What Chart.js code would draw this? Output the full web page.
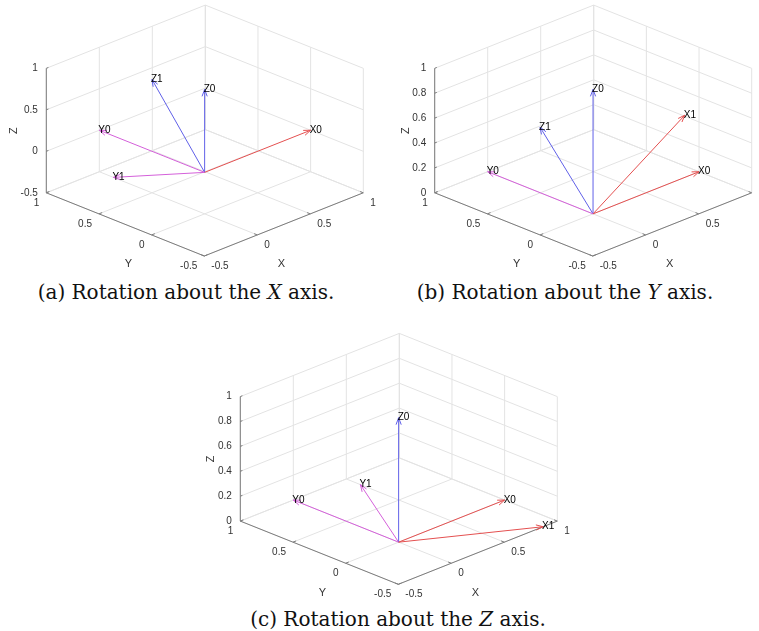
<!DOCTYPE html>
<html>
<head>
<meta charset="utf-8">
<script src="https://cdn.jsdelivr.net/npm/chart.js@4.4.0/dist/chart.umd.min.js"></script>
<style>
  html, body { margin: 0; padding: 0; background: #fff; }
  #page { position: relative; width: 759px; height: 631px; overflow: hidden; }
  canvas { position: absolute; }
  .cap { position: absolute; text-align: center; font-family: "DejaVu Serif", "Liberation Serif", serif; font-size: 20px; line-height: 24px; color: #111; white-space: nowrap; }
</style>
</head>
<body>
<div id="page">
  <canvas id="plotA" width="380" height="280" style="left:0px;top:0px"></canvas>
  <canvas id="plotB" width="379" height="280" style="left:380px;top:0px"></canvas>
  <canvas id="plotC" width="390" height="290" style="left:190px;top:310px"></canvas>
  <div class="cap" style="left:0px;top:280px;width:372px">(a) Rotation about the <i>X</i> axis.</div>
  <div class="cap" style="left:380px;top:280px;width:370px">(b) Rotation about the <i>Y</i> axis.</div>
  <div class="cap" style="left:190px;top:607px;width:416px">(c) Rotation about the <i>Z</i> axis.</div>
</div>
<script>
// tick values and labels
const xTicks = [-0.5, 0, 0.5, 1];
const yTicks = [-0.5, 0, 0.5, 1];
const xyTickLabels = ["-0.5", "0", "0.5", "1"];
const zTicksA = [-0.5, 0, 0.5, 1];
const zTickLabelsA = ["-0.5", "0", "0.5", "1"];
const zTicksBC = [0, 0.2, 0.4, 0.6, 0.8, 1];
const zTickLabelsBC = ["0", "0.2", "0.4", "0.6", "0.8", "1"];

// vectors (tips, all from the origin) for each panel
const namesA = ["X0", "Y0", "Z0", "Y1", "Z1"];
const tipsA = [[1, 0, 0], [0, 1, 0], [0, 0, 1], [0, 0.866, -0.5], [0, 0.5, 0.866]];
const kindsA = ["x", "y", "z", "y", "z"];

const namesB = ["X0", "Y0", "Z0", "X1", "Z1"];
const tipsB = [[1, 0, 0], [0, 1, 0], [0, 0, 1], [0.866, 0, 0.5], [-0.5, 0, 0.866]];
const kindsB = ["x", "y", "z", "x", "z"];

const namesC = ["X0", "Y0", "Z0", "X1", "Y1"];
const tipsC = [[1, 0, 0], [0, 1, 0], [0, 0, 1], [0.866, -0.5, 0], [0.5, 0.866, 0]];
const kindsC = ["x", "y", "z", "x", "y"];

const vecColors = { x: "rgb(228,80,80)", y: "rgb(212,96,218)", z: "rgb(96,96,232)" };
const gridColor = "#e3e3e3";
const axisColor = "#7c7c7c";
const tickFont = '10px "Liberation Sans", Arial, sans-serif';

function makePanel(canvasId, cfg) {
    const canvas = document.getElementById(canvasId);
    const W = canvas.width, H = canvas.height;
    const xr = [-0.5, 1], yr = [-0.5, 1], zr = [cfg.zTicks[0], cfg.zTicks[cfg.zTicks.length - 1]];

    // view projection of the unit plot box (front lower corner = xmin, ymin, zmin)
    const proj = (x, y, z) => {
        const nx = (x - xr[0]) / (xr[1] - xr[0]);
        const ny = (y - yr[0]) / (yr[1] - yr[0]);
        const nz = (z - zr[0]) / (zr[1] - zr[0]);
        return {
            x: cfg.front[0] + nx * 159 - ny * 158,
            y: cfg.front[1] - nx * 63.2 - ny * 63.2 - nz * 124.5,
        };
    };

    const segs = (list) => {
        const out = [];
        list.forEach(s => { out.push(proj(...s[0]), proj(...s[1]), { x: null, y: null }); });
        return out;
    };

    // grid on the three back planes
    const grid = [];
    xTicks.forEach(t => {
        grid.push([[t, yr[0], zr[0]], [t, yr[1], zr[0]]]);
        grid.push([[t, yr[1], zr[0]], [t, yr[1], zr[1]]]);
    });
    yTicks.forEach(t => {
        grid.push([[xr[0], t, zr[0]], [xr[1], t, zr[0]]]);
        grid.push([[xr[1], t, zr[0]], [xr[1], t, zr[1]]]);
    });
    cfg.zTicks.forEach(t => {
        grid.push([[xr[1], yr[0], t], [xr[1], yr[1], t]]);
        grid.push([[xr[0], yr[1], t], [xr[1], yr[1], t]]);
    });

    const axes = [
        [[xr[0], yr[0], zr[0]], [xr[1], yr[0], zr[0]]],
        [[xr[0], yr[0], zr[0]], [xr[0], yr[1], zr[0]]],
        [[xr[0], yr[1], zr[0]], [xr[0], yr[1], zr[1]]],
    ];
    const tickLen = 0.02;
    xTicks.forEach(t => axes.push([[t, yr[0], zr[0]], [t, yr[0] + tickLen * 1.5, zr[0]]]));
    yTicks.forEach(t => axes.push([[xr[0], t, zr[0]], [xr[0] + tickLen * 1.5, t, zr[0]]]));
    cfg.zTicks.forEach(t => axes.push([[xr[0], yr[1], t], [xr[0] + tickLen, yr[1], t]]));

    // lower order is drawn on top
    const datasets = [
        { data: segs(grid), borderColor: gridColor, borderWidth: 1, order: 10 },
        { data: segs(axes), borderColor: axisColor, borderWidth: 1, order: 9 },
    ];

    const o = proj(0, 0, 0);
    cfg.tips.forEach((v, i) => {
        const t = proj(v[0], v[1], v[2]);
        const dx = t.x - o.x, dy = t.y - o.y, len = Math.hypot(dx, dy);
        const ux = dx / len, uy = dy / len, L = 7, w = 2.6;
        datasets.push({
            data: [o, t, { x: null, y: null },
                { x: t.x - L * ux - w * uy, y: t.y - L * uy + w * ux }, t,
                { x: t.x - L * ux + w * uy, y: t.y - L * uy - w * ux }],
            borderColor: vecColors[cfg.kinds[i]],
            borderWidth: 1,
            order: 1,
        });
    });

    const textPlugin = {
        id: "texts",
        afterDatasetsDraw(chart) {
            const ctx = chart.ctx, sx = chart.scales.x, sy = chart.scales.y;
            const px = p => ({ x: sx.getPixelForValue(p.x), y: sy.getPixelForValue(p.y) });
            ctx.save();
            ctx.font = tickFont;
            ctx.fillStyle = "#333";
            ctx.textBaseline = "middle";
            ctx.textAlign = "left";
            xTicks.forEach((t, i) => {
                const p = px(proj(t, yr[0], zr[0]));
                ctx.fillText(xyTickLabels[i], p.x + 7, p.y + 10);
            });
            ctx.textAlign = "right";
            yTicks.forEach((t, i) => {
                const p = px(proj(xr[0], t, zr[0]));
                ctx.fillText(xyTickLabels[i], p.x - 7, p.y + 10);
            });
            let maxW = 0;
            cfg.zTicks.forEach((t, i) => {
                const p = px(proj(xr[0], yr[1], t));
                ctx.fillText(cfg.zLabels[i], p.x - 8.5, p.y);
                maxW = Math.max(maxW, ctx.measureText(cfg.zLabels[i]).width);
            });
            // axis titles
            ctx.font = '11px "Liberation Sans", Arial, sans-serif';
            ctx.textAlign = "center";
            const xm = px(proj((xr[0] + xr[1]) / 2, yr[0], zr[0]));
            ctx.fillText("X", xm.x - 2.5, xm.y + 40);
            const ym = px(proj(xr[0], (yr[0] + yr[1]) / 2, zr[0]));
            ctx.fillText("Y", ym.x + 3, ym.y + 40);
            const zm = px(proj(xr[0], yr[1], (zr[0] + zr[1]) / 2));
            ctx.save();
            ctx.translate(zm.x - maxW - 15, zm.y);
            ctx.rotate(-Math.PI / 2);
            ctx.fillText("Z", 0, 0);
            ctx.restore();
            // vector names
            ctx.font = tickFont;
            ctx.fillStyle = "#000";
            ctx.textAlign = "left";
            cfg.tips.forEach((v, i) => {
                const p = px(proj(v[0], v[1], v[2]));
                ctx.fillText(cfg.names[i], p.x - 1, p.y);
            });
            ctx.restore();
        },
    };

    new Chart(canvas, {
        type: "scatter",
        data: { datasets: datasets.map(d => Object.assign({ showLine: true, pointRadius: 0, spanGaps: false, tension: 0 }, d)) },
        options: {
            responsive: false,
            animation: false,
            devicePixelRatio: 1,
            layout: { padding: 0 },
            plugins: { legend: { display: false }, tooltip: { enabled: false } },
            scales: {
                x: { type: "linear", min: 0, max: W, display: false },
                y: { type: "linear", min: 0, max: H, reverse: true, display: false },
            },
        },
        plugins: [textPlugin],
    });
}

makePanel("plotA", { front: [204.3, 256], zTicks: zTicksA, zLabels: zTickLabelsA, names: namesA, tips: tipsA, kinds: kindsA });
makePanel("plotB", { front: [212.7, 256], zTicks: zTicksBC, zLabels: zTickLabelsBC, names: namesB, tips: tipsB, kinds: kindsB });
makePanel("plotC", { front: [208.3, 274.3], zTicks: zTicksBC, zLabels: zTickLabelsBC, names: namesC, tips: tipsC, kinds: kindsC });
</script>
</body>
</html>
